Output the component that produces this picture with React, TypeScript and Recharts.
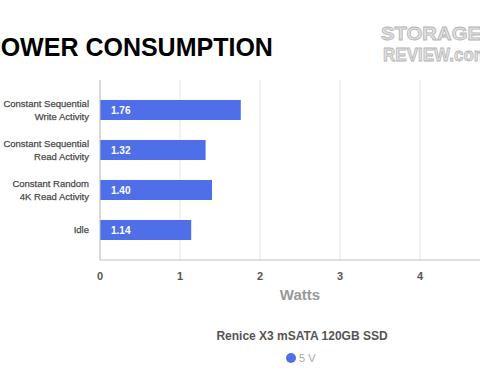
import { BarChart, Bar, XAxis, YAxis, CartesianGrid, LabelList } from 'recharts'

// ---------------------------------------------------------------------------
// Data
// ---------------------------------------------------------------------------

const CATEGORIES = [
  'Constant Sequential|Write Activity',
  'Constant Sequential|Read Activity',
  'Constant Random|4K Read Activity',
  'Idle',
]
const WATTS_5V = [1.76, 1.32, 1.4, 1.14]
const X_TICKS = [0, 1, 2, 3, 4, 5]

const SERIES_NAME = '5 V'
const LEGEND_TITLE = 'Renice X3 mSATA 120GB SSD'
const TITLE = 'POWER CONSUMPTION'

const BAR_BLUE = '#4f6fe9'
const FONT = '"Liberation Sans", Arial, Helvetica, sans-serif'

const data = CATEGORIES.map((name, i) => ({ name, value: WATTS_5V[i] }))

// two-line category labels, split on '|'
function CategoryTick(props: any) {
  const { x, y, payload } = props
  const lines = String(payload.value).split('|')
  const lh = 13.5
  const start = -((lines.length - 1) * lh) / 2
  return (
    <text
      x={x - 3}
      y={y}
      textAnchor="end"
      fill="#4a4a4a"
      fontSize={9.5}
      fontWeight="normal"
      fontFamily={FONT}
      stroke="#4a4a4a"
      strokeWidth={0.25}
    >
      {lines.map((l, i) => (
        <tspan key={i} x={x - 3} y={y + start + i * lh} dy="0.35em">
          {l}
        </tspan>
      ))}
    </text>
  )
}

export default function App() {
  return (
    <div
      style={{
        position: 'absolute',
        left: 0,
        top: 0,
        width: 480,
        height: 380,
        overflow: 'hidden',
        background: '#fff',
        fontFamily: FONT,
      }}
    >
      <div
        style={{
          position: 'absolute',
          left: -16,
          top: 33,
          fontSize: 25,
          fontWeight: 'bold',
          color: '#000',
          whiteSpace: 'nowrap',
          lineHeight: '28px',
        }}
      >
        {TITLE}
      </div>

      {/* site logo, approximated with outlined text */}
      <svg
        width={110}
        height={50}
        style={{ position: 'absolute', left: 380, top: 20 }}
      >
        <text
          x={1}
          y={20}
          fontSize={19}
          fontWeight="bold"
          fontFamily={FONT}
          fill="#e2e2e2"
          stroke="#b4b4b4"
          strokeWidth={0.8}
          textLength={100}
          lengthAdjust="spacingAndGlyphs"
        >
          STORAGE
        </text>
        <text
          x={3}
          y={41}
          fontSize={19}
          fontWeight="bold"
          fontFamily={FONT}
          fill="#e2e2e2"
          stroke="#b4b4b4"
          strokeWidth={0.8}
          textLength={106}
          lengthAdjust="spacingAndGlyphs"
        >
          REVIEW.com
        </text>
      </svg>

      <div style={{ position: 'absolute', left: 0, top: 0 }}>
        <BarChart
          width={520}
          height={310}
          data={data}
          layout="vertical"
          margin={{ top: 80, right: 20, bottom: 10, left: 0 }}
        >
          <CartesianGrid horizontal={false} stroke="#e6e6e6" />
          <XAxis
            type="number"
            domain={[0, 5]}
            ticks={X_TICKS}
            height={40}
            tickLine={false}
            tickSize={0}
            tickMargin={12}
            axisLine={{ stroke: '#c0c0c0' }}
            tick={{ fill: '#555', fontSize: 11, fontWeight: 'bold', fontFamily: FONT }}
            label={{
              value: 'Watts',
              position: 'insideBottom',
              offset: 0,
              fill: '#999',
              fontSize: 15,
              fontWeight: 'bold',
              fontFamily: FONT,
            }}
          />
          <YAxis
            type="category"
            dataKey="name"
            width={100}
            padding={{ top: 10, bottom: 10 }}
            tickLine={false}
            axisLine={{ stroke: '#c0c0c0' }}
            tick={<CategoryTick />}
          />
          {/* top border of the plot box */}
          <XAxis
            xAxisId="top"
            orientation="top"
            type="number"
            domain={[0, 5]}
            height={0}
            tick={false}
            tickLine={false}
            axisLine={{ stroke: '#c0c0c0' }}
          />
          <Bar dataKey="value" name={SERIES_NAME} fill={BAR_BLUE} barSize={20} isAnimationActive={false}>
            <LabelList
              dataKey="value"
              position="insideLeft"
              offset={11}
              formatter={(v: any) => Number(v).toFixed(2)}
              fill="#fff"
              fontSize={10}
              fontWeight="bold"
              fontFamily={FONT}
            />
          </Bar>
        </BarChart>
      </div>

      {/* legend */}
      <div
        style={{
          position: 'absolute',
          left: 100,
          width: 404,
          top: 328,
          textAlign: 'center',
          fontSize: 12,
          fontWeight: 'bold',
          color: '#555',
          lineHeight: '16px',
        }}
      >
        {LEGEND_TITLE}
      </div>
      <div
        style={{
          position: 'absolute',
          left: 286,
          top: 350,
          display: 'flex',
          alignItems: 'center',
          fontSize: 11,
          color: '#aaa',
          lineHeight: '16px',
        }}
      >
        <span
          style={{
            display: 'inline-block',
            width: 10,
            height: 10,
            borderRadius: 5,
            background: BAR_BLUE,
            marginRight: 3,
          }}
        />
        {SERIES_NAME}
      </div>
    </div>
  )
}
